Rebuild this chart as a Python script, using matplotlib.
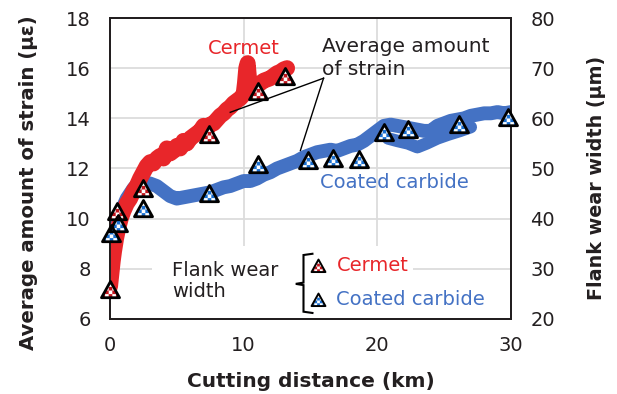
import numpy as np
import matplotlib
matplotlib.use("Agg")
import matplotlib.pyplot as plt
from matplotlib.path import Path
from matplotlib.patches import Rectangle

plt.rcParams['font.family'] = ['DejaVu Sans', 'Noto Sans CJK JP']

# ---------------- data ----------------
cermet_strain_x = [0.0, 0.1, 0.2, 0.3, 0.45, 0.6, 0.8, 1.0, 1.25, 1.5, 1.75, 2.0, 2.25, 2.5,
                   2.75, 3.0, 3.25, 3.5, 3.75, 4.0, 4.25, 4.5, 4.75, 5.0, 5.25, 5.5, 5.75,
                   6.0, 6.25, 6.5, 6.75, 7.0, 7.25, 7.5, 7.75, 8.0, 8.25, 8.5, 8.75, 9.0,
                   9.25, 9.5, 9.75, 10.0, 10.1, 10.2, 10.3, 10.4, 10.5, 10.75, 11.0, 11.25,
                   11.5, 11.75, 12.0, 12.25, 12.5, 12.75, 13.0, 13.25]
cermet_strain_y = [7.3, 7.8, 8.3, 8.7, 9.2, 9.6, 10.0, 10.3, 10.6, 10.8, 11.1, 11.3, 11.6, 11.85,
                   12.1, 12.25, 12.2, 12.4, 12.5, 12.4, 12.8, 12.6, 12.7, 12.9, 12.8, 13.1, 13.0,
                   13.2, 13.3, 13.4, 13.5, 13.7, 13.6, 13.75, 13.8, 13.95, 14.1, 14.2, 14.35, 14.45,
                   14.6, 14.7, 14.8, 14.95, 15.4, 16.0, 16.2, 15.6, 15.1, 15.2, 15.3, 15.4,
                   15.5, 15.55, 15.6, 15.7, 15.8, 15.85, 15.95, 16.0]

carbide_strain_x = [0.0, 0.15, 0.3, 0.5, 0.75, 1.0, 1.25, 1.5, 1.75, 2.0, 2.5, 3.0, 3.5, 4.0,
                    4.5, 5.0, 5.5, 6.0, 6.5, 7.0, 7.5, 8.0, 8.5, 9.0, 9.5, 10.0, 10.5, 11.0,
                    11.5, 12.0, 12.5, 13.0, 13.5, 14.0, 14.5, 15.0, 15.5, 16.0, 16.5, 17.0,
                    17.5, 18.0, 18.5, 19.0, 19.5, 20.0, 20.5, 21.0, 21.5, 22.0, 22.5, 23.0,
                    23.5, 24.0, 24.5, 25.0, 25.5, 26.0, 26.5, 27.0, 27.5, 28.0, 28.5, 29.0,
                    29.5, 30.0]
carbide_strain_y = [8.9, 9.3, 9.6, 9.9, 10.2, 10.5, 10.8, 11.0, 11.2, 11.35, 11.45, 11.4, 11.3, 11.1,
                    10.9, 10.8, 10.85, 10.9, 10.95, 11.0, 11.05, 11.15, 11.25, 11.3, 11.4, 11.5,
                    11.5, 11.6, 11.75, 11.85, 12.0, 12.1, 12.2, 12.3, 12.45, 12.55, 12.65, 12.7,
                    12.75, 12.7, 12.8, 12.9, 12.95, 13.1, 13.3, 13.5, 13.7, 13.75, 13.7, 13.65,
                    13.6, 13.55, 13.5, 13.5, 13.7, 13.8, 13.9, 13.95, 14.0, 14.1, 14.15, 14.2,
                    14.2, 14.25, 14.2, 14.25]

# lower scatter lobe of the coated carbide band
carbide_lobe_x = [20.8, 21.5, 22.3, 23.0, 23.7, 24.5, 25.3, 26.2, 27.0]
carbide_lobe_y = [13.2, 13.1, 13.0, 12.85, 13.0, 13.2, 13.35, 13.5, 13.65]

cermet_wear_x = [0.0, 0.5, 2.5, 7.4, 11.1, 13.1]
cermet_wear_y = [25.8, 41.4, 46.0, 56.6, 65.2, 68.2]

carbide_wear_x = [0.05, 0.6, 2.5, 7.4, 11.1, 14.8, 16.7, 18.6, 20.5, 22.3, 26.1, 29.8]
carbide_wear_y = [37.0, 39.0, 42.0, 45.0, 50.6, 51.4, 51.8, 51.6, 57.0, 57.6, 58.6, 60.0]

left_ticks = [6, 8, 10, 12, 14, 16, 18]
right_ticks = [20, 30, 40, 50, 60, 70, 80]
x_ticks = [0, 10, 20, 30]

RED = '#e8262a'
BLUE = '#4472c4'
DARK = '#231f20'
CHK_RED = '#c1141c'
CHK_BLUE = '#1a6fd0'


# ---------------- checkered triangle markers ----------------
TRI = [(-1.0, -0.8), (1.0, -0.8), (0.0, 1.0)]


def clip(poly, tri):
    out = poly
    n = len(tri)
    for k in range(n):
        a = np.array(tri[k]); b = np.array(tri[(k + 1) % n])
        inp = out; out = []
        if not inp:
            break

        def inside(p):
            return (b[0] - a[0]) * (p[1] - a[1]) - (b[1] - a[1]) * (p[0] - a[0]) >= -1e-12

        def inter(p, q):
            p = np.array(p); q = np.array(q)
            d1 = (b[0] - a[0]) * (p[1] - a[1]) - (b[1] - a[1]) * (p[0] - a[0])
            d2 = (b[0] - a[0]) * (q[1] - a[1]) - (b[1] - a[1]) * (q[0] - a[0])
            t = d1 / (d1 - d2)
            return tuple(p + t * (q - p))
        s = inp[-1]
        for e in inp:
            if inside(e):
                if not inside(s):
                    out.append(inter(s, e))
                out.append(e)
            elif inside(s):
                out.append(inter(s, e))
            s = e
    return out


def checker_path(cell=0.4):
    verts, codes = [], []
    nx = int(round(2.0 / cell)); ny = int(np.ceil(1.8 / cell))
    for i in range(nx):
        for j in range(ny):
            if (i + j) % 2:
                continue
            x0 = -1.0 + i * cell; y0 = -0.8 + j * cell
            sq = [(x0, y0), (x0 + cell, y0), (x0 + cell, y0 + cell), (x0, y0 + cell)]
            pl = clip(sq, TRI)
            if len(pl) < 3:
                continue
            verts += pl + [pl[0]]
            codes += [Path.MOVETO] + [Path.LINETO] * (len(pl) - 1) + [Path.CLOSEPOLY]
    return Path(verts, codes)


tri_path = Path(TRI + [TRI[0]], [Path.MOVETO, Path.LINETO, Path.LINETO, Path.CLOSEPOLY])
chk_path = checker_path()


def checker_tri(ax, x, y, color, ms, mew):
    kw = dict(linestyle='none', clip_on=False)
    ax.plot(x, y, marker=tri_path, ms=ms, mfc='white', mec='none', zorder=10, **kw)
    ax.plot(x, y, marker=chk_path, ms=ms, mfc=color, mec='none', mew=0, zorder=11, **kw)
    ax.plot(x, y, marker=tri_path, ms=ms, mfc='none', mec='black', mew=mew, zorder=12, **kw)


# ---------------- figure ----------------
fig = plt.figure(figsize=(6.17, 3.94), dpi=100)
ax = fig.add_axes([0.1783, 0.1904, 0.828 - 0.1783, 0.9543 - 0.1904])
ax2 = ax.twinx()

ax.set_xlim(0, 30)
ax.set_ylim(6, 18)
ax2.set_ylim(20, 80)
ax.set_xticks(x_ticks)
ax.set_yticks(left_ticks)
ax2.set_yticks(right_ticks)

ax.grid(True, color='#dcdcdc', lw=1.3, zorder=0)
ax.set_axisbelow(True)
for a in (ax, ax2):
    for s in a.spines.values():
        s.set_color(DARK)
        s.set_linewidth(1.4)
ax.tick_params(axis='both', length=0, labelsize=14, labelcolor=DARK)
ax.tick_params(axis='y', pad=14)
ax.tick_params(axis='x', pad=12)
ax2.tick_params(axis='y', length=0, labelsize=14, labelcolor=DARK, pad=14)

ax.set_xlabel('Cutting distance (km)', fontsize=14.5, fontweight='bold', color=DARK, labelpad=12.5)
ax.set_ylabel('Average amount of strain (με)', fontsize=14.2, fontweight='bold', color=DARK)
ax2.set_ylabel('Flank wear width (μm)', fontsize=13.8, fontweight='bold', color=DARK)
ax.yaxis.set_label_coords(-0.18, 0.452)
ax2.yaxis.set_label_coords(1.19, 0.468)

# legend background box
ax.add_patch(Rectangle((3.15, 6.0), 22.7 - 3.15, 8.92 - 6.0, facecolor='white',
                       edgecolor='none', zorder=1))

# strain bands
ax.plot(carbide_strain_x, carbide_strain_y, color=BLUE, lw=10, solid_capstyle='round',
        solid_joinstyle='round', zorder=3)
ax.plot(carbide_lobe_x, carbide_lobe_y, color=BLUE, lw=9, solid_capstyle='round',
        solid_joinstyle='round', zorder=3)
ax.plot(cermet_strain_x, cermet_strain_y, color=RED, lw=11.5, solid_capstyle='round',
        solid_joinstyle='round', zorder=4)

# annotation
ax.text(15.9, 16.42, 'Average amount\nof strain', fontsize=14.5, color=DARK,
        ha='left', va='center', linespacing=1.25, zorder=6)
ax.plot([15.98, 9.0], [15.6, 14.24], color='black', lw=1, zorder=6)
ax.plot([15.98, 14.25], [15.6, 12.72], color='black', lw=1, zorder=6)
ax.text(10.05, 16.8, 'Cermet', fontsize=14, color=RED, ha='center', va='center', zorder=6)
ax.text(21.3, 11.44, 'Coated carbide', fontsize=14, color=BLUE, ha='center', va='center', zorder=6)

# wear markers (right axis)
checker_tri(ax2, carbide_wear_x, carbide_wear_y, CHK_BLUE, 13, 2.0)
checker_tri(ax2, cermet_wear_x, cermet_wear_y, CHK_RED, 13, 2.0)

# legend
ax.text(4.65, 7.5, 'Flank wear\nwidth', fontsize=14, color=DARK, ha='left', va='center',
        linespacing=1.15, zorder=6)
ax.plot([15.15, 14.48, 14.48, 13.9, 14.48, 14.48, 15.15],
        [8.6, 8.55, 7.45, 7.4, 7.35, 6.29, 6.24], color='black', lw=1.5, zorder=6,
        solid_joinstyle='miter')
checker_tri(ax, [15.6], [8.12], CHK_RED, 10, 1.4)
checker_tri(ax, [15.6], [6.76], CHK_BLUE, 10, 1.4)
ax.text(16.95, 8.14, 'Cermet', fontsize=14, color=RED, ha='left', va='center', zorder=6)
ax.text(16.95, 6.78, 'Coated carbide', fontsize=14, color=BLUE, ha='left', va='center', zorder=6)

fig.savefig('out.png', dpi=100)
